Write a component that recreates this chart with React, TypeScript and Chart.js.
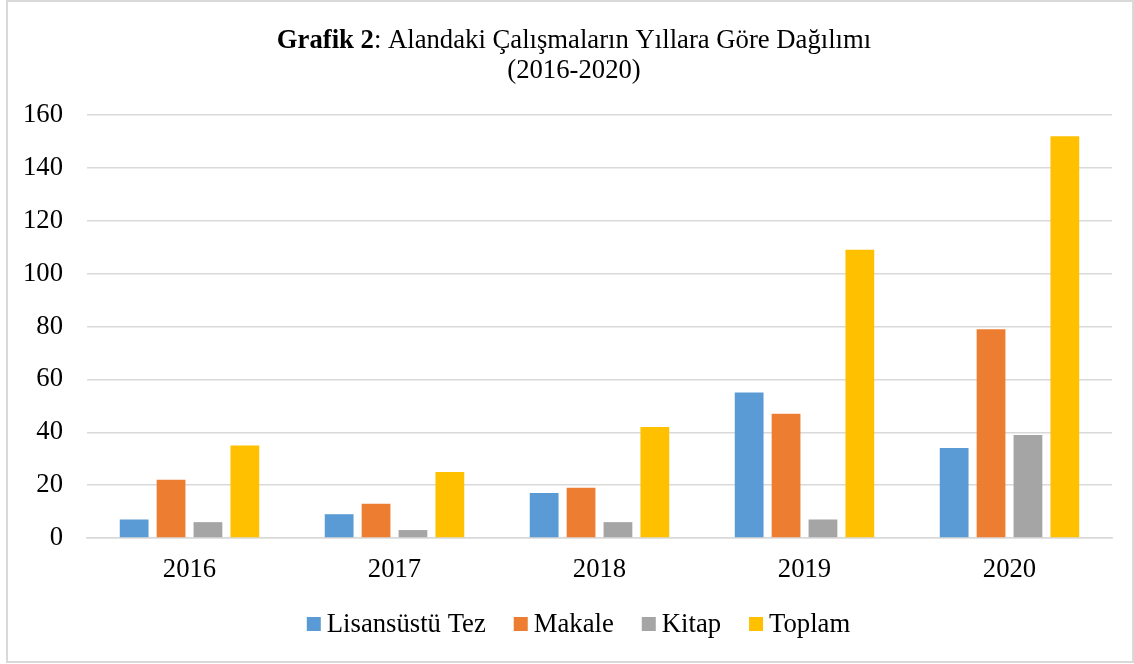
import React, { useEffect, useRef } from "react";
import { Chart, registerables } from "chart.js";

Chart.register(...registerables);

const categories = ["2016", "2017", "2018", "2019", "2020"];
const lisansustuTez = [7, 9, 17, 55, 34];
const makale = [22, 13, 19, 47, 79];
const kitap = [6, 3, 6, 7, 39];
const toplam = [35, 25, 42, 109, 152];
const seriesNames = ["Lisansüstü Tez", "Makale", "Kitap", "Toplam"];
const seriesColors = ["#5B9BD5", "#ED7D31", "#A5A5A5", "#FFC000"];
const titleBold = "Grafik 2";
const titleRest = ": Alandaki Çalışmaların Yıllara Göre Dağılımı";
const titleLine2 = "(2016-2020)";
const yMin = 0;
const yMax = 160;
const yStep = 20;

const FONT = '"Liberation Serif", "Times New Roman", serif';
const FS = 26.7;

const titlePlugin = {
  id: "mixedTitle",
  afterDraw(chart: any) {
    const ctx = chart.ctx;
    ctx.save();
    ctx.fillStyle = "#000";
    ctx.textBaseline = "alphabetic";
    ctx.font = `bold ${FS}px ${FONT}`;
    const w1 = ctx.measureText(titleBold).width;
    ctx.font = `${FS}px ${FONT}`;
    const w2 = ctx.measureText(titleRest).width;
    const cx = chart.width / 2 + 4;
    const x = cx - (w1 + w2) / 2;
    ctx.font = `bold ${FS}px ${FONT}`;
    ctx.textAlign = "left";
    ctx.fillText(titleBold, x, 46);
    ctx.font = `${FS}px ${FONT}`;
    ctx.fillText(titleRest, x + w1, 46);
    ctx.textAlign = "center";
    ctx.fillText(titleLine2, cx, 76);
    ctx.restore();
  },
};

const legendPlugin = {
  id: "customLegend",
  afterDraw(chart: any) {
    const ctx = chart.ctx;
    ctx.save();
    ctx.font = `${FS}px ${FONT}`;
    const box = 14;
    const gapText = 6;
    const gapItem = 28;
    const widths = chart.data.datasets.map((d: any) => ctx.measureText(d.label).width);
    let total = 0;
    widths.forEach((w: number, i: number) => {
      total += box + gapText + w + (i < widths.length - 1 ? gapItem : 0);
    });
    let x = 570.5 - total / 2;
    const cy = 622;
    ctx.textBaseline = "middle";
    ctx.textAlign = "left";
    chart.data.datasets.forEach((d: any, i: number) => {
      ctx.fillStyle = d.backgroundColor;
      ctx.fillRect(x, cy - box / 2, box, box);
      ctx.fillStyle = "#000";
      ctx.fillText(d.label, x + box + gapText, cy + 1);
      x += box + gapText + widths[i] + gapItem;
    });
    ctx.restore();
  },
};

export default function App() {
  const canvasRef = useRef<HTMLCanvasElement | null>(null);

  useEffect(() => {
    document.body.style.margin = "0";
    const canvas = canvasRef.current;
    if (!canvas) return;
    const values = [lisansustuTez, makale, kitap, toplam];
    const chart = new Chart(canvas, {
      type: "bar",
      data: {
        labels: categories,
        datasets: seriesNames.map((name, i) => ({
          label: name,
          data: values[i],
          backgroundColor: seriesColors[i],
          borderWidth: 0,
          categoryPercentage: 0.72,
          barPercentage: 0.78,
        })),
      },
      options: {
        animation: false,
        responsive: true,
        maintainAspectRatio: false,
        layout: { padding: { top: 113, left: 16, right: 20, bottom: 75 } },
        plugins: {
          title: { display: false },
          tooltip: { enabled: false },
          legend: { display: false },
        },
        scales: {
          x: {
            afterFit(scale: any) {
              scale.height = 48;
            },
            grid: { display: false, drawTicks: false },
            border: { display: true, color: "#d9d9d9", width: 1.5 },
            ticks: { color: "#000", padding: 16, font: { family: FONT, size: FS } },
          },
          y: {
            min: yMin,
            max: yMax,
            afterFit(scale: any) {
              scale.width = 63;
            },
            grid: { color: "#d9d9d9", lineWidth: 1.5, drawTicks: false },
            border: { display: false },
            ticks: {
              stepSize: yStep,
              color: "#000",
              padding: 24,
              font: { family: FONT, size: FS },
            },
          },
        },
      },
      plugins: [titlePlugin, legendPlugin],
    });
    return () => chart.destroy();
  }, []);

  return (
    <div
      style={{
        position: "absolute",
        left: 6,
        top: 0,
        width: 1128,
        height: 663,
        border: "2px solid #d9d9d9",
        boxSizing: "border-box",
        background: "#fff",
      }}
    >
      <canvas ref={canvasRef} />
    </div>
  );
}
